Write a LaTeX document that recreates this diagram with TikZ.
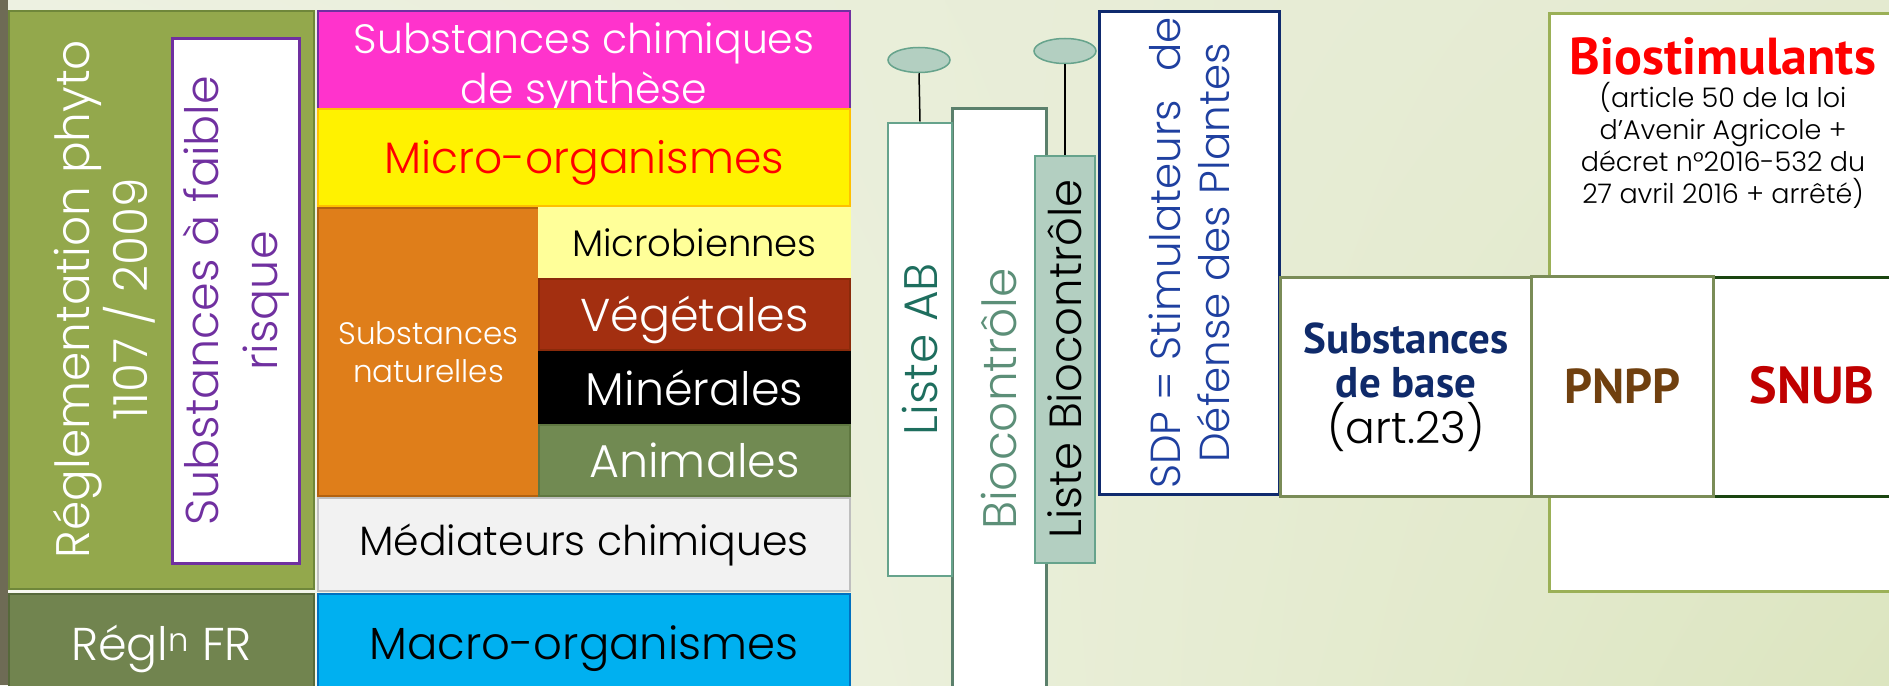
\documentclass[tikz,border=0pt]{standalone}
\usepackage{fontspec}
\setmainfont{Poppins Light}
\newfontfamily\condfont{PT Sans}
\usetikzlibrary{shapes.geometric,shadings}

\definecolor{bgA}{HTML}{EDF1E1}
\definecolor{bgB}{HTML}{E4EAD0}
\definecolor{bgC}{HTML}{F8F9F3}
\definecolor{bgD}{HTML}{DCE5C0}
\definecolor{stripGrey}{HTML}{6E6B55}
\definecolor{regGreen}{HTML}{93A84C}
\definecolor{regLine}{HTML}{6F873A}
\definecolor{frGreen}{HTML}{71844F}
\definecolor{frLine}{HTML}{56693A}
\definecolor{violetLine}{HTML}{7030A0}
\definecolor{pinkFill}{HTML}{FF33CC}
\definecolor{yellowLine}{HTML}{FFC000}
\definecolor{orangeFill}{HTML}{DF7E1A}
\definecolor{orangeLine}{HTML}{B3620F}
\definecolor{paleYellow}{HTML}{FFFF99}
\definecolor{vegFill}{HTML}{A32F10}
\definecolor{vegLine}{HTML}{8A2A0A}
\definecolor{animFill}{HTML}{718A52}
\definecolor{animLine}{HTML}{5F7741}
\definecolor{medFill}{HTML}{F2F2F2}
\definecolor{medLine}{HTML}{BFBFBF}
\definecolor{macroFill}{HTML}{00B0F0}
\definecolor{macroLine}{HTML}{0070C0}
\definecolor{sage}{HTML}{B3CFC1}
\definecolor{sageLine}{HTML}{66A38C}
\definecolor{bioLine}{HTML}{5B806C}
\definecolor{tealText}{HTML}{1E6E5E}
\definecolor{bioText}{HTML}{5C8F78}
\definecolor{sdpLine}{HTML}{0F2A6E}
\definecolor{sdpText}{HTML}{1F40A0}
\definecolor{oliveLine}{HTML}{7A8C57}
\definecolor{stimLine}{HTML}{9BB057}
\definecolor{snubLine}{HTML}{1A4510}
\definecolor{navyText}{HTML}{0F2A6A}
\definecolor{brownText}{HTML}{70400F}
\definecolor{snubText}{HTML}{C00000}

\newcommand{\fsz}[2]{\fontsize{#1}{#2}\selectfont}

\begin{document}
\begin{tikzpicture}[x=1pt, y=-1pt,
    box/.style={draw, line width=2pt, inner sep=0pt, anchor=north west, align=center},
    vbox/.style={draw, line width=2pt, inner sep=0pt, rotate=90, align=center},
    lbl/.style={inner sep=0pt, align=center},
    pin/.style={ellipse, draw=sageLine, fill=sage, line width=1.5pt, minimum width=62, minimum height=25, inner sep=0pt}]
  \useasboundingbox (0,0) rectangle (1889,685);
  \clip (0,0) rectangle (1889,685);
  \shade[upper left=bgA, upper right=bgB, lower left=bgC, lower right=bgD] (0,0) rectangle (1889,685);
  \fill[stripGrey] (0,0) rectangle (8,685);

  \node[box, fill=regGreen, draw=regLine, minimum width=305, minimum height=578] (reg) at (8,10) {};
  \node[lbl, rotate=90, text=white, font=\fsz{47}{58}] (regText) at (104,299) {Réglementation phyto\\1107 / 2009};
  \node[vbox, fill=white, draw=violetLine, line width=3pt, minimum width=524, minimum height=127, text=violetLine, font=\fsz{46}{59}] (faible) at (236,301) {Substances à faible\\risque};
  \node[box, fill=frGreen, draw=frLine, minimum width=305, minimum height=110, text=white, font=\fsz{46}{50}] (fr) at (8,593) {Régl\textsuperscript{n} FR};

  \node[box, fill=pinkFill, draw=violetLine, minimum width=532, minimum height=96, text=white, font=\fsz{41}{50}] (synth) at (317,10) {\rule{0pt}{42pt}Substances chimiques\\de synthèse};
  \node[box, fill=yellow, draw=yellowLine, minimum width=532, minimum height=97, text=red, font=\fsz{44}{50}, text height=42pt, text depth=10pt] (micro) at (317,108) {Micro-organismes};
  \node[box, fill=orangeFill, draw=orangeLine, minimum width=221, minimum height=288, text=white, font=\fsz{31}{38}] (nat) at (317,207) {Substances\\naturelles};
  \node[box, fill=paleYellow, draw=paleYellow, minimum width=311, minimum height=70, font=\fsz{37}{40}] (microb) at (538,207) {Microbiennes};
  \node[box, fill=vegFill, draw=vegLine, minimum width=311, minimum height=71, text=white, font=\fsz{46}{50}, text height=44pt, text depth=10pt] (veg) at (538,278) {Végétales};
  \node[box, fill=black, draw=black, minimum width=311, minimum height=72, text=white, font=\fsz{46}{50}] (miner) at (538,351) {Minérales};
  \node[box, fill=animFill, draw=animLine, minimum width=311, minimum height=71, text=white, font=\fsz{46}{50}] (anim) at (538,424) {Animales};
  \node[box, fill=medFill, draw=medLine, minimum width=532, minimum height=93, font=\fsz{41}{50}] (media) at (317,497) {Médiateurs chimiques};
  \node[box, fill=macroFill, draw=macroLine, minimum width=532, minimum height=110, font=\fsz{45}{50}] (macro) at (317,593) {Macro-organismes};

  \node[vbox, fill=white, draw=bioLine, line width=3pt, minimum width=582, minimum height=94, text=bioText, font=\fsz{47}{50}] (bioc) at (999,399) {Biocontrôle};
  \node[vbox, fill=white, draw=sageLine, minimum width=453, minimum height=64, text=tealText, font=\fsz{47}{50}] (listeAB) at (920,349) {Liste AB};
  \node[vbox, fill=sage, draw=sageLine, minimum width=407, minimum height=60, font=\fsz{45}{50}] (listeBio) at (1065,359) {Liste Biocontrôle};
  \node[pin] (pinAB) at (919,60) {};
  \node[pin] (pinBio) at (1065,51) {};
  \draw[line width=1.5pt] (pinAB.south) -- (listeAB.east);
  \draw[line width=1.5pt] (pinBio.south) -- (listeBio.east);

  \node[vbox, fill=white, draw=sdpLine, line width=3pt, minimum width=483, minimum height=180, text=sdpText, font=\fsz{42}{49}] (sdp) at (1189,253) {SDP = Stimulateurs\hspace{0.4em} de\\Défense des Plantes};

  \node[box, fill=white, draw=stimLine, line width=3pt, minimum width=350, minimum height=578] (stim) at (1548,12) {};
  \node[lbl, anchor=north, font=\fsz{27}{32}] (stimText) at (1723,37) {{\color{red}\condfont\bfseries\fsz{52}{54}Biostimulants}\\[1pt](article 50 de la loi\\d'Avenir Agricole +\\décret n°2016-532 du\\27 avril 2016 + arrêté)};
  \node[box, fill=white, draw=snubLine, line width=3pt, minimum width=300, minimum height=219] (snub) at (1625,276) {};
  \node[lbl, text=snubText, font=\condfont\bfseries\fsz{52}{52}] (snubLbl) at (1812,385) {SNUB};
  \node[box, fill=white, draw=oliveLine, line width=3pt, minimum width=182, minimum height=220, text=brownText, font=\condfont\bfseries\fsz{49}{50}] (pnpp) at (1530,275) {PNPP};
  \node[box, fill=white, draw=oliveLine, line width=3pt, minimum width=251, minimum height=219, font=\fsz{44}{50}] (base) at (1279,276) {{\color{navyText}\condfont\bfseries\fsz{43}{44}Substances}\\[-6pt]{\color{navyText}\condfont\bfseries\fsz{43}{44}de base}\\[-4pt](art.23)};
\end{tikzpicture}
\end{document}
